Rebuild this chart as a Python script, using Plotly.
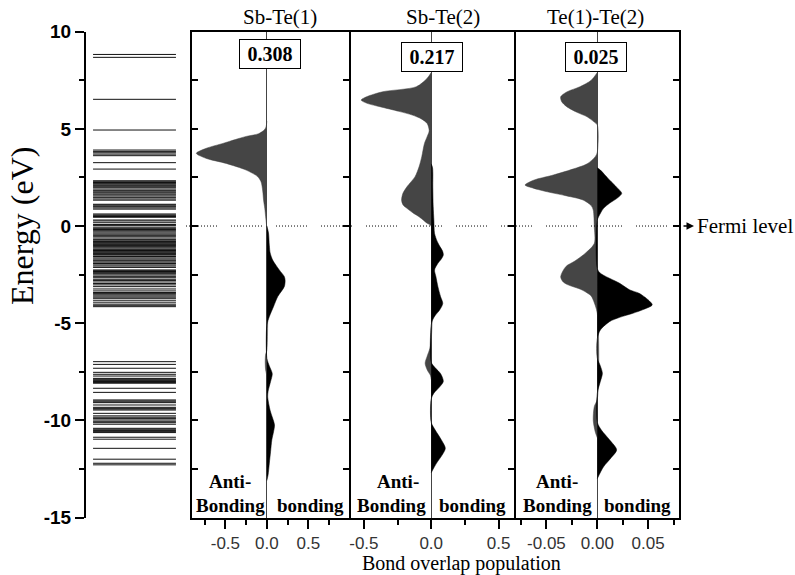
import plotly.graph_objects as go

# ---------------- data ----------------
levels = [8.83, 8.68, 6.52, 4.94, 3.91, 3.84, 3.77, 3.70, 3.62, 3.26, 2.93,
          2.33, 2.28, 2.24, 2.20, 2.16, 2.11, 2.07, 2.02, 1.97, 1.90, 1.82, 1.76, 1.71,
          1.65, 1.60, 1.54, 1.46, 1.39, 1.33, 1.12, 1.08, 1.03, 0.99, 0.93, 0.87,
          0.62, 0.57, 0.53, 0.49, 0.45, 0.31, 0.26, 0.17, 0.08,
          0.02, -0.06, -0.12, -0.18, -0.24, -0.30, -0.36, -0.42, -0.48, -0.55, -0.62,
          -0.70, -0.76, -0.80, -0.84, -0.88, -0.92, -0.96, -1.00, -1.06, -1.12, -1.18,
          -1.22, -1.26, -1.30, -1.34, -1.38, -1.42, -1.46, -1.50, -1.57, -1.64, -1.70,
          -1.76, -1.80, -1.86, -1.93, -2.00, -2.06, -2.13, -2.26, -2.30, -2.34, -2.38,
          -2.42, -2.46, -2.52, -2.59, -2.66, -2.74, -2.80, -2.88, -2.96, -3.03, -3.12,
          -3.24, -3.34, -3.42, -3.48, -3.54, -3.60, -3.66, -3.72, -3.82, -3.92, -4.02,
          -4.08, -4.15,
          -6.98, -7.12, -7.32, -7.53, -7.63, -7.72, -7.84, -7.88, -7.92, -7.96, -8.00,
          -8.05, -8.09, -8.35, -8.56, -8.95, -9.00, -9.05, -9.09, -9.21, -9.33, -9.38,
          -9.42, -9.47, -9.64, -9.77, -9.84, -9.90, -9.98, -10.05, -10.12, -10.20,
          -10.41, -10.46, -10.52, -10.58, -10.63, -10.87, -10.97, -11.44, -12.00,
          -12.21, -12.29]

# Sb-Te(1)
st1_anti_E = [5.4, 5.1, 4.95, 4.75, 4.61, 4.45, 4.25, 4.0, 3.74, 3.48, 3.22, 2.88, 2.54,
              2.28, 1.8, 1.34, 0.9, 0.48, 0.1, -0.1, -6.4, -6.6, -7.0, -7.4, -7.7]
st1_anti_v = [0, -0.01, -0.03, -0.1, -0.25, -0.38, -0.53, -0.73, -0.85, -0.73, -0.49, -0.25,
              -0.11, -0.07, -0.05, -0.04, -0.025, -0.015, -0.005, 0, 0, -0.015, -0.02, -0.015, 0]
st1_bond_E = [0.0, -0.36, -1.0, -1.39, -1.75, -2.26, -2.6, -2.8, -3.12, -3.64, -4.15, -4.66,
              -5.1, -6.8, -7.2, -7.6, -8.0, -8.5, -8.8, -9.5, -10.24, -10.6, -11.0, -11.6,
              -12.2, -12.8, -13.1]
st1_bond_v = [0, 0.02, 0.03, 0.04, 0.07, 0.15, 0.21, 0.22, 0.21, 0.13, 0.08, 0.03, 0.0, 0,
              0.03, 0.065, 0.045, 0.015, 0.01, 0.04, 0.092, 0.08, 0.06, 0.045, 0.03, 0.015, 0.0]

# Sb-Te(2)
st2_anti_E = [7.9, 7.6, 7.17, 6.91, 6.65, 6.48, 6.3, 6.14, 5.9, 5.71, 5.5, 5.28, 4.9, 4.6,
              4.25, 3.57, 3.05, 2.54, 2.02, 1.68, 1.34, 1.1, 0.91, 0.65, 0.48, 0.14, 0.0,
              -5.9, -6.3, -6.7, -7.06, -7.4, -7.7, -7.9]
st2_anti_v = [0, -0.03, -0.11, -0.36, -0.48, -0.52, -0.47, -0.38, -0.24, -0.14, -0.07, -0.03,
              -0.015, -0.03, -0.05, -0.07, -0.09, -0.12, -0.18, -0.21, -0.22, -0.21, -0.18,
              -0.13, -0.09, -0.03, 0, 0, -0.01, -0.03, -0.045, -0.03, -0.005, 0]
st2_bond_E = [3.2, 3.0, 2.0, 1.0, 0.3, -0.38, -0.8, -1.06, -1.3, -1.49, -1.7, -1.92, -2.26,
              -2.6, -3.12, -3.64, -3.98, -4.3, -4.6, -4.84, -5.1, -7.0, -7.3, -7.6, -8.0,
              -8.3, -8.6, -8.9, -10.1, -10.5, -11.0, -11.44, -11.8, -12.2, -12.7]
st2_bond_v = [0, 0.01, 0.012, 0.015, 0.02, 0.025, 0.045, 0.065, 0.085, 0.09, 0.075, 0.05,
              0.025, 0.035, 0.05, 0.07, 0.086, 0.065, 0.03, 0.01, 0, 0, 0.03, 0.07, 0.09,
              0.06, 0.02, 0.0, 0, 0.03, 0.075, 0.105, 0.08, 0.04, 0.0]

# Te(1)-Te(2)
tt_anti_E = [7.9, 7.5, 7.17, 6.9, 6.65, 6.4, 6.14, 5.85, 5.62, 5.35, 5.2, 3.8, 3.57, 3.2,
             2.88, 2.6, 2.37, 2.11, 1.95, 1.76, 1.55, 1.34, 1.05, 0.82, 0.0, -0.9, -1.41,
             -1.8, -2.09, -2.61, -2.85, -3.0, -3.29, -3.6, -3.81, -4.5, -8.9, -9.3, -10.0,
             -10.6, -10.9]
tt_anti_v = [0, -0.006, -0.017, -0.03, -0.036, -0.035, -0.03, -0.02, -0.01, -0.003, 0, 0,
             -0.002, -0.01, -0.027, -0.045, -0.062, -0.071, -0.063, -0.049, -0.03, -0.014,
             -0.006, -0.004, -0.003, -0.003, -0.012, -0.022, -0.031, -0.036, -0.034, -0.03,
             -0.015, -0.006, -0.004, 0, 0, -0.003, -0.004, -0.002, 0]
tt_bond_E = [3.0, 2.88, 2.6, 2.37, 2.0, 1.68, 1.45, 1.17, 0.9, 0.65, 0.3, -2.2, -2.43, -2.95,
             -3.29, -3.46, -3.8, -4.06, -4.3, -4.49, -4.7, -4.92, -5.35, -5.8, -6.8, -7.2,
             -7.58, -8.0, -8.6, -10.1, -10.5, -11.0, -11.52, -11.9, -12.4, -13.0]
tt_bond_v = [0, 0.003, 0.008, 0.012, 0.019, 0.024, 0.02, 0.012, 0.006, 0.003, 0.0, 0, 0.003,
             0.022, 0.032, 0.041, 0.05, 0.054, 0.045, 0.035, 0.022, 0.012, 0.003, 0.0, 0,
             0.003, 0.005, 0.003, 0.0, 0, 0.004, 0.012, 0.019, 0.014, 0.006, 0.0]

panel_titles = ["Sb-Te(1)", "Sb-Te(2)", "Te(1)-Te(2)"]
overlap_values = ["0.308", "0.217", "0.025"]
FERMI = 0.0

y_tickvals = [10, 5, 0, -5, -10, -15]
y_ticktext = ["10", "5", "0", "-5", "-10", "-15"]
y_minor = [7.5, 2.5, -2.5, -7.5, -12.5]
x12_tickvals = [-0.5, 0.0, 0.5]
x12_ticktext = ["-0.5", "0.0", "0.5"]
x12_minor = [-0.75, -0.25, 0.25, 0.75]
x3_tickvals = [-0.05, 0.0, 0.05]
x3_ticktext = ["-0.05", "0.00", "0.05"]
x3_minor = [-0.075, -0.025, 0.025, 0.075]

# ---------------- layout helpers ----------------
W, H = 795, 575
def px(x):
    return x / W
def py(y):
    return 1 - y / H

YDOM = [py(517.5), py(31.7)]
YR = [-15, 10]
ANTI_COLOR = "#454545"
BOND_COLOR = "#000000"

fig = go.Figure()

# energy levels
lx, ly = [], []
for e in levels:
    lx += [0.075, 0.957, None]
    ly += [e, e, None]
fig.add_trace(go.Scatter(x=lx, y=ly, mode="lines", line=dict(color="#111111", width=1),
                         xaxis="x", yaxis="y", hoverinfo="skip", showlegend=False))

panels = [
    (st1_anti_E, st1_anti_v, st1_bond_E, st1_bond_v, "x2", "y2"),
    (st2_anti_E, st2_anti_v, st2_bond_E, st2_bond_v, "x3", "y3"),
    (tt_anti_E, tt_anti_v, tt_bond_E, tt_bond_v, "x4", "y4"),
]
for aE, av, bE, bv, xa, ya in panels:
    fig.add_trace(go.Scatter(x=av, y=aE, mode="lines", fill="tozerox",
                             line=dict(color=ANTI_COLOR, width=0.5, shape="spline", smoothing=0.8),
                             fillcolor=ANTI_COLOR, xaxis=xa, yaxis=ya, showlegend=False))
    fig.add_trace(go.Scatter(x=bv, y=bE, mode="lines", fill="tozerox",
                             line=dict(color=BOND_COLOR, width=0.5, shape="spline", smoothing=0.8),
                             fillcolor=BOND_COLOR, xaxis=xa, yaxis=ya, showlegend=False))

tickfont_x = dict(family="Liberation Sans", size=17, color="#333333")

def bottom_x(domain, rng, tv, tt, minor_vals):
    return dict(domain=domain, range=rng, showline=True, linewidth=2, linecolor="black",
                mirror=True, ticks="outside", ticklen=9, tickwidth=1.5, tickcolor="black",
                tickmode="array", tickvals=tv, ticktext=tt, tickfont=tickfont_x,
                minor=dict(tickmode="array", tickvals=minor_vals, ticklen=5, tickwidth=1.5,
                           tickcolor="black", ticks="outside", showgrid=False),
                showgrid=False, zeroline=True, zerolinecolor="#444444", zerolinewidth=1,
                fixedrange=True, automargin=False)

def top_x(overlay, anchor, rng, vals):
    return dict(overlaying=overlay, anchor=anchor, side="top", range=rng, showline=False,
                ticks="inside", ticklen=8, tickwidth=1.5, tickcolor="black",
                tickmode="array", tickvals=vals, showticklabels=False, showgrid=False,
                zeroline=False, automargin=False)

def panel_y(side, mirror):
    return dict(domain=YDOM, range=YR, side=side, showline=True, linewidth=2,
                linecolor="black", mirror=mirror, ticks="inside", ticklen=6, tickwidth=1.5,
                tickcolor="black", tickmode="array", tickvals=y_tickvals + y_minor,
                showticklabels=False, showgrid=False, zeroline=False, automargin=False)

r1 = [-0.906, 0.99]
r2 = [-0.603, 0.615]
r3 = [-0.0809, 0.0803]

fig.update_layout(
    width=W, height=H, margin=dict(l=0, r=0, t=0, b=0, pad=0, autoexpand=False),
    paper_bgcolor="white", plot_bgcolor="rgba(0,0,0,0)",
    xaxis=dict(domain=[px(86), px(180)], range=[0, 1], visible=False, anchor="y",
               automargin=False),
    yaxis=dict(domain=YDOM, range=YR, anchor="x", showline=True, linewidth=2,
               linecolor="black", ticks="outside", ticklen=9, tickwidth=2, tickcolor="black",
               tickmode="array", tickvals=y_tickvals, ticktext=y_ticktext,
               tickfont=dict(family="Liberation Sans", size=19, color="black", weight="bold"),
               minor=dict(tickmode="array", tickvals=y_minor, ticklen=5, tickwidth=2,
                          tickcolor="black", ticks="outside"),
               showgrid=False, zeroline=False, automargin=False),
    xaxis2=dict(anchor="y2", **bottom_x([px(191.7), px(349)], r1, x12_tickvals, x12_ticktext, x12_minor)),
    yaxis2=dict(anchor="x2", **panel_y("left", "ticks")),
    xaxis3=dict(anchor="y3", **bottom_x([px(350), px(514)], r2, x12_tickvals, x12_ticktext, x12_minor)),
    yaxis3=dict(anchor="x3", **panel_y("right", False)),
    xaxis4=dict(anchor="y4", **bottom_x([px(515), px(679)], r3, x3_tickvals, x3_ticktext, x3_minor)),
    yaxis4=dict(anchor="x4", **panel_y("right", False)),
    xaxis5=top_x("x3", "y3", r2, x12_tickvals + x12_minor),
    xaxis6=top_x("x4", "y4", r3, x3_tickvals + x3_minor),
)

# Fermi level dotted line
dash = ",".join(["1px,2px"] * 10) + ",1px,14px"
fig.add_shape(type="line", xref="paper", yref="y", x0=px(186), x1=px(681), y0=FERMI, y1=FERMI,
              line=dict(color="black", width=1, dash=dash), layer="above")
fig.add_annotation(xref="paper", yref="y", x=px(694), y=FERMI, ax=-12, ay=0, text="",
                   showarrow=True, arrowhead=2, arrowsize=1, arrowwidth=1.5, arrowcolor="black")
fig.add_annotation(xref="paper", yref="y", x=px(695), y=FERMI, text="Fermi level",
                   showarrow=False, xanchor="left", yanchor="middle",
                   font=dict(family="Liberation Serif", size=21, color="black"))

serif = "Liberation Serif"
# axis titles
fig.add_annotation(xref="paper", yref="paper", x=px(22), y=py(226), text="Energy (eV)",
                   textangle=-90, showarrow=False, xanchor="center", yanchor="middle",
                   font=dict(family=serif, size=32, color="black"))
fig.add_annotation(xref="paper", yref="paper", x=px(461), y=py(563),
                   text="Bond overlap population", showarrow=False,
                   xanchor="center", yanchor="middle", font=dict(family=serif, size=20, color="black"))

# panel titles and overlap population boxes
title_x = [280, 443, 595]
box_x = [269.5, 431.5, 596]
box_y = [53.5, 56.5, 56.5]
for t, tx in zip(panel_titles, title_x):
    fig.add_annotation(xref="paper", yref="paper", x=px(tx), y=py(17), text=t, showarrow=False,
                       xanchor="center", yanchor="middle", font=dict(family=serif, size=21, color="black"))
for v, bx, by in zip(overlap_values, box_x, box_y):
    fig.add_annotation(xref="paper", yref="paper", x=px(bx), y=py(by), text="<b>" + v + "</b>",
                       showarrow=False, xanchor="center", yanchor="middle", width=58, height=26,
                       bordercolor="black", borderwidth=1, bgcolor="white",
                       font=dict(family=serif, size=20, color="black"))

# Anti-bonding / bonding labels
anti_x = [230, 398, 557]
Bond_x = [230, 391, 557]
bond_x = [310, 472, 637]
lab_font = dict(family=serif, size=19, color="black")
for ax_, Bx, bx in zip(anti_x, Bond_x, bond_x):
    fig.add_annotation(xref="paper", yref="paper", x=px(ax_), y=py(481), text="<b>Anti-</b>",
                       showarrow=False, xanchor="center", yanchor="middle", font=lab_font)
    fig.add_annotation(xref="paper", yref="paper", x=px(Bx), y=py(505), text="<b>Bonding</b>",
                       showarrow=False, xanchor="center", yanchor="middle", font=lab_font)
    fig.add_annotation(xref="paper", yref="paper", x=px(bx), y=py(505), text="<b>bonding</b>",
                       showarrow=False, xanchor="center", yanchor="middle", font=lab_font)

fig.write_html("out.html")
